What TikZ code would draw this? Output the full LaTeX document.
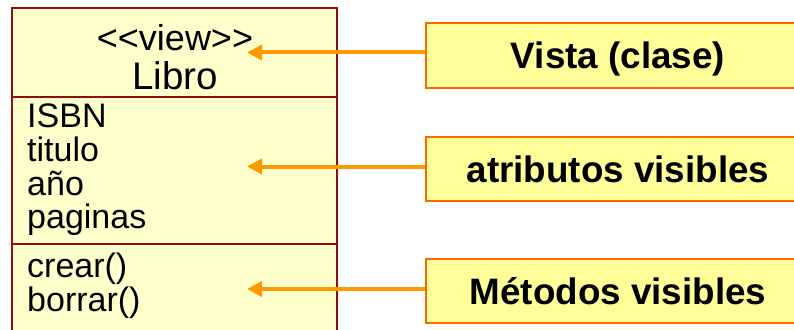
\documentclass[tikz,border=0pt]{standalone}
\usepackage{fontspec}
\setmainfont{Liberation Sans}
\usetikzlibrary{arrows.meta}
\definecolor{clsfill}{HTML}{FFFFCC}
\definecolor{clsline}{HTML}{8B1010}
\definecolor{lblfill}{HTML}{FFFF99}
\definecolor{lblline}{HTML}{FF6A00}
\definecolor{arrcol}{HTML}{FF9900}
\tikzset{
  compbox/.style={draw=clsline, fill=clsfill, line width=1.6pt},
  member/.style={anchor=base west, inner sep=0pt, font=\fontsize{34}{36}\selectfont},
  label/.style={draw=lblline, fill=lblfill, line width=2pt, anchor=west,
    minimum width=384pt, inner sep=0pt, text height=26pt, text depth=0pt,
    font=\fontsize{36.8}{40}\bfseries},
  pointer/.style={draw=arrcol, line width=4pt, -{Triangle[length=15pt,width=15pt]}}
}
\begin{document}
\begin{tikzpicture}[x=1pt,y=-1pt]
\useasboundingbox (0,0) rectangle (794,329);
% class compartments
\draw[compbox] (12,8) rectangle (337,97);
\draw[compbox] (12,97) rectangle (337,244);
\draw[compbox] (12,244) rectangle (337,345);
\node[anchor=base, inner sep=0pt, font=\fontsize{36}{40}\selectfont] (stereo) at (175,50) {<{}<view>{}>};
\node[anchor=base, inner sep=0pt, font=\fontsize{38.5}{42}\selectfont] (name) at (175,89) {Libro};
\node[member] (a1) at (27,127) {ISBN};
\node[member] (a2) at (27,161) {titulo};
\node[member] (a3) at (27,195) {año};
\node[member] (a4) at (27,228) {paginas};
\node[member] (m1) at (27,277) {crear()};
\node[member] (m2) at (27,311) {borrar()};
% target points
\coordinate (t1) at (247,52.5);
\coordinate (t2) at (247,166.5);
\coordinate (t3) at (247,289);
% labels
\node[label, minimum height=65pt] (l1) at (425,55.5) {Vista (clase)};
\node[label, minimum height=64pt] (l2) at (425,169) {atributos visibles};
\node[label, minimum height=64pt] (l3) at (425,291) {Métodos visibles};
% arrows
\draw[pointer] (l1.west |- t1) -- (t1);
\draw[pointer] (l2.west |- t2) -- (t2);
\draw[pointer] (l3.west |- t3) -- (t3);
\end{tikzpicture}
\end{document}
